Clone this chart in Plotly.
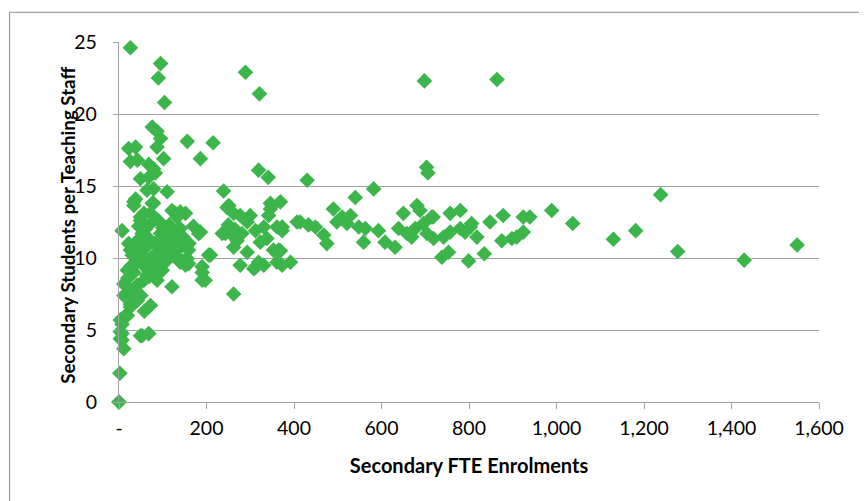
import plotly.graph_objects as go

# Secondary FTE enrolments (x) and students per teaching staff (y)
enrolments = [
    26, 95, 90, 104, 289, 321, 698, 864,
    76, 87, 95, 22, 38, 87, 156, 215,
    186, 102, 26, 42, 68, 79, 83, 319, 703, 706,
    49, 68, 341, 430,
    79, 64, 110, 239, 582, 540, 38, 1238,
    79, 34, 346, 369, 251, 490, 681, 688, 350, 140, 129, 57, 76, 34, 121, 152, 262, 247, 346, 650, 757, 780, 989, 72,
    133, 49, 49, 72, 300, 342, 277, 293, 407, 414, 433, 449, 373, 361, 331, 369, 140, 510, 529, 498, 521, 548, 563,
    718, 715, 878, 848, 806, 924, 939, 1037, 639, 677, 696, 780, 803,
    7, 53, 68, 110, 121, 186, 182, 236, 243, 255, 270, 281, 312, 373, 338, 323, 593, 468, 475, 559, 608, 658, 669,
    704, 719, 742, 757, 791, 818, 875, 898, 909, 924, 1130, 1181, 42, 83, 22, 1550,
    61, 57, 95, 26, 140, 159, 133, 262, 293, 353, 365, 369, 631, 753, 738, 835, 1277, 30, 125, 205, 209,
    26, 34, 87, 99, 49, 38, 72, 110, 102, 140, 159, 156, 152, 190, 19, 277, 308, 312, 319, 331, 361, 392, 373, 799, 1429, 190,
    83, 64, 68, 57, 87, 42, 11, 121, 190, 197,
    26, 11, 38, 42, 262,
    26, 26, 72, 19, 15,
    3, 7,
    3, 7, 3, 7, 49, 53, 68,
    11, 2, 0, 0,
    45, 60, 90, 100, 115, 30, 50, 65, 80, 95, 105, 115, 128, 145, 160, 170, 145, 20, 34, 50, 58, 250, 265,
]
ratio = [
    24.6, 23.5, 22.5, 20.8, 22.9, 21.4, 22.3, 22.4,
    19.1, 18.8, 18.3, 17.6, 17.7, 17.7, 18.1, 18.0,
    16.9, 16.9, 16.7, 16.8, 16.5, 16.2, 15.9, 16.1, 16.3, 15.9,
    15.5, 15.6, 15.6, 15.4,
    14.8, 14.7, 14.6, 14.65, 14.8, 14.2, 14.1, 14.4,
    13.8, 13.9, 13.8, 13.9, 13.65, 13.4, 13.65, 13.3, 13.65, 13.2, 13.1, 13.1, 13.8, 13.65, 13.3, 13.1, 13.1, 13.5, 13.4, 13.1, 13.1, 13.3, 13.3, 13.1,
    12.85, 12.85, 12.6, 12.4, 12.95, 12.95, 12.95, 12.5, 12.5, 12.5, 12.3, 12.15, 12.15, 12.15, 12.15, 12.05, 12.05, 12.85, 12.95, 12.5, 12.4, 12.15, 12.05,
    12.85, 12.85, 12.95, 12.5, 12.4, 12.85, 12.85, 12.4, 12.05, 12.05, 12.4, 12.05, 12.15,
    11.9, 11.7, 11.35, 11.2, 11.7, 11.8, 11.7, 11.7, 11.7, 11.7, 11.2, 11.7, 11.9, 11.9, 11.35, 11.1, 11.9, 11.6, 11.0, 11.1, 11.1, 11.7, 11.45,
    11.7, 11.35, 11.45, 11.8, 11.8, 11.45, 11.2, 11.35, 11.45, 11.8, 11.3, 11.9, 11.2, 11.0, 11.0, 10.9,
    10.75, 10.65, 10.55, 10.55, 10.9, 10.55, 10.55, 10.75, 10.4, 10.55, 10.55, 10.5, 10.75, 10.4, 10.05, 10.3, 10.45, 10.2, 10.2, 10.2, 10.2,
    9.4, 9.0, 9.4, 9.15, 9.7, 9.6, 9.95, 9.85, 9.85, 9.7, 9.6, 9.95, 9.5, 9.4, 9.15, 9.5, 9.25, 9.35, 9.7, 9.5, 9.7, 9.7, 9.5, 9.8, 9.85, 9.0,
    8.8, 8.8, 8.7, 8.45, 8.45, 8.1, 8.2, 8.0, 8.45, 8.45,
    7.75, 7.4, 7.2, 7.05, 7.5,
    6.6, 6.8, 6.7, 6.0, 6.0,
    5.7, 5.4,
    4.9, 4.75, 4.4, 4.3, 4.6, 4.6, 4.75,
    3.7, 2.0, 0.0, 0.0,
    12.2, 12.0, 12.6, 12.1, 12.3, 10.8, 10.3, 9.2, 10.2, 11.7, 10.5, 10.8, 11.3, 11.5, 11.0, 12.2, 9.8, 8.6, 7.9, 7.4, 6.3, 12.3, 12.0,
]

x_tick_vals = [0, 200, 400, 600, 800, 1000, 1200, 1400, 1600]
x_tick_text = ["-", "200", "400", "600", "800", "1,000", "1,200", "1,400", "1,600"]
y_tick_vals = [0, 5, 10, 15, 20, 25]

FONT = "Lato, 'Open Sans', sans-serif"
GRID = "#a3a3a3"

fig = go.Figure()
fig.add_trace(go.Scatter(
    x=enrolments, y=ratio, mode="markers", cliponaxis=False,
    marker=dict(symbol="diamond", size=12, color="#3cb54a", line=dict(width=0)),
    showlegend=False, hoverinfo="x+y",
))

# page body has an 8px margin: figure occupies screen (8..867, 8..501)
OFF = 8
W, H = 867 - OFF, 501 - OFF
L, R, T, B = 118.5, 819, 41.7, 401.7   # plot area in screen pixels
pw, ph = R - L, B - T

def px2paper(px, py):
    return (px - L) / pw, (B - py) / ph

x0p, y0p = px2paper(9, 12)
x1p, _ = px2paper(875, 12)
_, ybp = px2paper(9, 510)
ytx, yty = px2paper(68, 225)

fig.update_layout(
    width=W, height=H,
    margin=dict(l=L - OFF, r=867 - R, t=T - OFF, b=501 - B, pad=0),
    paper_bgcolor="white", plot_bgcolor="white",
    font=dict(family=FONT, size=19.5, color="#000000"),
    xaxis=dict(
        range=[0, 1600], tickvals=x_tick_vals, ticktext=x_tick_text,
        showgrid=False, zeroline=False,
        showline=True, linecolor=GRID, linewidth=1.3,
        ticks="outside", ticklen=6, tickcolor=GRID, tickwidth=1.3,
        ticklabelstandoff=2,
        tickfont=dict(family=FONT, size=19.5),
        title=dict(text="<b>Secondary FTE Enrolments</b>", font=dict(family=FONT, size=20), standoff=21),
    ),
    yaxis=dict(
        range=[0, 25], tickvals=y_tick_vals,
        showgrid=True, gridcolor=GRID, gridwidth=1.3,
        zeroline=False,
        showline=True, linecolor=GRID, linewidth=1.3,
        ticks="outside", ticklen=5, tickcolor=GRID, tickwidth=1.3,
        ticklabelstandoff=12,
        tickfont=dict(family=FONT, size=19.5),
    ),
    annotations=[
        dict(text="<b>Secondary Students per Teaching Staff</b>", xref="paper", yref="paper",
             x=ytx, y=yty, xanchor="center", yanchor="middle", textangle=-90,
             showarrow=False, font=dict(family=FONT, size=18.7, color="#000000")),
    ],
    shapes=[
        dict(type="line", xref="paper", yref="paper", x0=x0p, y0=y0p, x1=x1p, y1=y0p,
             line=dict(color="#8c8c8c", width=1)),
        dict(type="line", xref="paper", yref="paper", x0=x0p, y0=y0p, x1=x0p, y1=ybp,
             line=dict(color="#8c8c8c", width=1)),
    ],
)

fig.write_html("out.html")
